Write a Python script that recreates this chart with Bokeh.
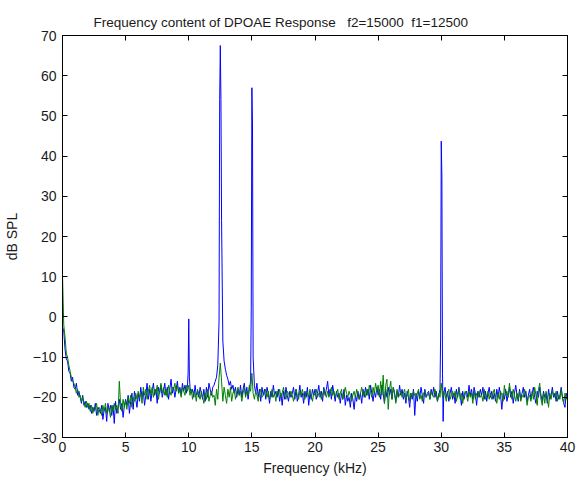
import numpy as np
from bokeh.plotting import figure
from bokeh.models import Range1d, LinearAxis, FixedTicker
from bokeh.embed import file_html
from bokeh.resources import INLINE

TITLE = "Frequency content of DPOAE Response\u00a0\u00a0\u00a0f2=15000\u00a0\u00a0f1=12500"
X_LABEL = "Frequency (kHz)"
Y_LABEL = "dB SPL"
X_TICKS = [0, 5, 10, 15, 20, 25, 30, 35, 40]
Y_TICKS = [-30, -20, -10, 0, 10, 20, 30, 40, 50, 60, 70]
BIN_KHZ = 0.1  # spectrum bin spacing (one value per bin below, from 0 kHz)

# Response 1 (blue), one row per kHz
blue_db = [
    -2.5, -3.5, -8.0, -10.5, -11.0, -13.5, -14.0, -16.0, -15.0, -17.5,
    -18.0, -16.5, -19.5, -18.5, -20.0, -21.5, -19.5, -22.0, -21.0, -22.5,
    -21.5, -23.0, -22.0, -24.0, -22.5, -23.5, -21.5, -24.5, -22.5, -23.0,
    -24.0, -22.0, -25.5, -23.0, -22.5, -26.0, -21.5, -23.5, -22.0, -24.5,
    -22.0, -26.5, -21.0, -24.0, -22.5, -20.5, -23.0, -21.5, -25.0, -22.0,
    -20.5, -22.0, -19.5, -24.0, -21.0, -19.0, -23.0, -18.5, -20.5, -22.5,
    -19.0, -21.0, -17.5, -20.0, -18.5, -22.0, -19.5, -16.5, -20.5, -18.0,
    -21.0, -18.5, -16.5, -19.5, -18.0, -21.5, -17.5, -19.0, -17.0, -20.0,
    -18.5, -16.5, -19.5, -17.5, -20.5, -18.0, -15.5, -19.0, -17.5, -20.0,
    -18.0, -16.0, -19.0, -17.5, -19.5, -16.5, -18.5, -17.0, -19.0, -17.0,
    -0.5, -17.5, -19.0, -18.0, -20.0, -17.0, -19.5, -18.5, -20.0, -17.5,
    -19.0, -20.5, -18.0, -21.0, -17.5, -20.0, -16.5, -18.0, -19.5, -17.5,
    -17.0, -16.0, -15.0, -12.0, -1.0, 67.5, 24.0, -6.0, -11.0, -13.0,
    -14.5, -15.5, -17.0, -16.0, -18.0, -17.0, -19.0, -17.5, -20.0, -18.0,
    -19.5, -17.0, -20.0, -18.0, -16.5, -19.5, -17.5, -20.5, -18.0, -16.0,
    57.0, -10.0, -17.0, -19.0, -16.5, -20.0, -18.0, -21.0, -17.5, -19.5,
    -18.0, -20.5, -17.5, -19.0, -21.5, -18.5, -20.0, -17.0, -19.5, -18.5,
    -20.0, -18.0, -21.0, -19.0, -22.0, -18.5, -20.5, -17.5, -19.5, -21.0,
    -18.5, -20.0, -19.0, -17.5, -20.5, -18.0, -21.0, -19.5, -17.0, -20.0,
    -19.0, -21.5, -18.5, -20.0, -17.5, -22.0, -19.0, -20.5, -18.0, -19.5,
    -18.0, -20.5, -19.0, -17.0, -20.0, -18.5, -21.0, -17.5, -19.5, -18.0,
    -16.0, -19.5, -18.0, -20.5, -17.0, -19.0, -21.0, -18.5, -20.0, -19.0,
    -21.5, -19.0, -20.5, -18.0, -22.0, -19.5, -21.0, -20.0, -22.5, -19.0,
    -20.5, -23.0, -19.5, -21.0, -18.5, -20.5, -19.0, -21.5, -18.0, -20.0,
    -17.5, -19.5, -18.0, -20.5, -17.0, -19.0, -21.0, -18.5, -20.0, -17.5,
    -19.5, -18.0, -20.5, -17.0, -19.0, -21.5, -18.0, -20.0, -17.5, -19.5,
    -18.0, -20.5, -17.5, -19.0, -21.0, -18.5, -20.0, -17.0, -19.5, -18.0,
    -20.5, -19.0, -21.5, -18.5, -20.0, -22.5, -19.0, -20.5, -18.0, -24.5,
    -19.0, -21.0, -18.5, -20.0, -17.5, -19.5, -21.5, -18.0, -20.0, -19.0,
    -18.5, -20.5, -18.0, -19.5, -17.5, -20.0, -18.5, -21.0, -19.5, -18.0,
    43.7, -14.0, -19.0, -17.5, -20.0, -18.5, -21.0, -19.0, -17.5, -20.5,
    -19.0, -21.5, -18.0, -20.0, -17.5, -19.5, -22.0, -18.5, -20.5, -19.0,
    -18.5, -20.0, -17.0, -19.5, -18.0, -20.5, -17.5, -19.0, -22.0, -18.5,
    -20.0, -18.0, -19.5, -17.5, -20.5, -18.5, -21.0, -19.0, -17.5, -20.0,
    -18.5, -20.5, -19.0, -21.0, -18.0, -20.0, -17.5, -19.5, -23.0, -19.0,
    -20.5, -18.0, -21.0, -19.5, -17.5, -20.0, -18.5, -21.5, -19.0, -17.0,
    -19.5, -21.0, -18.0, -20.5, -19.0, -17.5, -20.0, -18.5, -21.0, -19.5,
    -18.0, -20.5, -19.0, -17.5, -20.0, -21.5, -18.5, -20.0, -17.5, -19.5,
    -21.0, -18.5, -20.0, -19.0, -21.5, -18.0, -20.5, -19.5, -17.5, -20.0,
    -19.0, -21.0, -18.5, -20.5, -19.5, -17.5, -20.0, -21.5, -22.5, -19.0,
    -20.0,
]

# extra half-bin points on the blue tone peaks (kHz, dB)
blue_peak_khz = [9.95, 10.05, 12.45, 12.55, 14.95, 15.05, 29.95, 30.05, 30.15]
blue_peak_db = [-14.0, -15.0, 54.0, 54.0, 2.0, 47.5, -5.0, 35.0, -26.0]

# Response 2 (green), one row per kHz
green_db = [
    10.5, -2.0, -5.0, -9.0, -10.0, -12.0, -13.5, -15.0, -16.0, -16.5,
    -17.5, -19.0, -18.0, -20.0, -19.5, -21.0, -20.0, -21.5, -22.5, -21.0,
    -22.5, -21.5, -23.5, -22.0, -24.0, -22.5, -23.0, -21.5, -24.5, -22.5,
    -23.0, -24.5, -22.0, -23.5, -21.5, -24.0, -22.5, -23.0, -25.0, -22.0,
    -23.5, -21.5, -23.0, -22.0, -24.0, -16.0, -21.5, -23.5, -20.5, -22.5,
    -21.0, -23.0, -20.0, -21.5, -19.5, -22.5, -20.0, -21.0, -19.0, -20.5,
    -18.5, -20.0, -19.0, -21.5, -17.5, -19.5, -18.0, -20.5, -18.5, -17.0,
    -19.5, -17.5, -20.0, -18.0, -19.0, -17.0, -20.5, -18.5, -16.5, -19.0,
    -17.5, -19.5, -18.0, -20.0, -17.0, -18.5, -19.5, -17.5, -18.0, -16.5,
    -18.5, -17.0, -19.0, -18.0, -20.0, -17.5, -18.5, -19.5, -17.0, -18.5,
    -17.0, -19.5, -18.0, -20.5, -18.5, -19.0, -21.0, -18.0, -19.5, -20.5,
    -18.5, -20.0, -21.5, -19.0, -20.5, -18.0, -21.0, -19.5, -18.5, -20.0,
    -19.5, -22.0, -18.0, -20.5, -15.0, -11.5, -16.0, -21.0, -17.5, -19.5,
    -21.5, -18.0, -20.0, -17.5, -21.0, -19.0, -18.0, -20.5, -19.0, -17.5,
    -19.5, -18.5, -21.0, -19.0, -17.5, -20.0, -18.5, -19.5, -17.0, -18.5,
    -14.0, -19.0, -20.5, -18.5, -19.5, -21.0, -19.0, -18.0, -20.0, -19.5,
    -19.0, -18.0, -20.0, -18.5, -20.5, -19.5, -18.0, -20.0, -19.0, -21.0,
    -18.5, -19.5, -18.0, -20.0, -19.0, -17.5, -19.5, -20.5, -18.5, -19.0,
    -20.0, -18.5, -19.5, -21.0, -19.0, -18.0, -19.5, -20.5, -18.5, -19.5,
    -18.0, -19.5, -20.5, -18.5, -19.0, -20.0, -18.0, -19.5, -21.0, -19.0,
    -19.5, -18.0, -20.0, -19.0, -18.5, -20.5, -19.5, -18.0, -19.0, -20.0,
    -18.5, -20.0, -19.0, -17.5, -19.5, -18.5, -20.0, -19.0, -18.0, -20.5,
    -19.0, -18.0, -20.5, -19.5, -17.5, -19.0, -20.0, -18.5, -19.5, -21.0,
    -19.5, -18.5, -20.0, -18.0, -19.5, -20.5, -19.0, -17.5, -19.5, -18.5,
    -20.0, -18.0, -19.5, -17.0, -18.5, -20.0, -17.5, -19.0, -16.5, -18.5,
    -17.0, -20.0, -16.0, -19.5, -14.5, -21.5, -17.0, -15.5, -23.0, -18.0,
    -16.0, -20.5, -17.5, -19.0, -21.5, -18.0, -20.0, -19.5, -18.5, -20.0,
    -19.0, -18.0, -20.5, -19.5, -18.0, -21.0, -19.0, -20.0, -18.5, -19.5,
    -20.0, -19.0, -18.0, -20.5, -19.5, -21.0, -19.0, -18.5, -20.0, -19.5,
    -19.0, -20.5, -18.5, -19.5, -20.0, -18.0, -19.5, -21.0, -19.0, -20.0,
    -16.5, -20.0, -18.5, -19.5, -21.0, -19.0, -18.0, -20.5, -19.5, -18.5,
    -20.0, -18.5, -21.0, -19.5, -18.0, -20.5, -19.0, -21.5, -19.5, -18.5,
    -19.5, -21.0, -18.5, -20.0, -19.0, -21.5, -18.5, -20.5, -19.0, -20.0,
    -18.5, -20.0, -19.5, -21.0, -18.0, -20.5, -19.5, -18.5, -20.5, -19.0,
    -20.5, -19.0, -18.0, -20.0, -21.5, -19.0, -20.5, -18.5, -19.5, -21.0,
    -17.0, -19.5, -18.5, -20.0, -16.5, -19.0, -20.5, -18.0, -19.5, -21.0,
    -19.0, -20.5, -18.5, -21.0, -19.5, -20.0, -18.0, -19.5, -22.0, -20.0,
    -19.5, -21.0, -18.5, -20.5, -17.5, -19.5, -22.0, -18.0, -16.5, -20.5,
    -22.0, -19.0, -21.5, -18.5, -20.0, -22.5, -19.0, -20.5, -18.5, -19.5,
    -20.0, -18.5, -21.0, -19.5, -20.5, -18.0, -20.0, -21.5, -19.0, -20.5,
    -19.5,
]

assert len(blue_db) == 401, len(blue_db)
assert len(green_db) == 401, len(green_db)

bins = np.round(np.arange(len(blue_db)) * BIN_KHZ, 3)
bx = np.concatenate([bins, blue_peak_khz])
by = np.concatenate([blue_db, blue_peak_db])
order = np.argsort(bx, kind="stable")
bx, by = bx[order], by[order]
gx = np.round(np.arange(len(green_db)) * BIN_KHZ, 3)

FONT = "Liberation Sans"
TXT = "#1a1a1a"

p = figure(width=579, height=482, output_backend="svg", toolbar_location=None,
           x_range=Range1d(0, 40), y_range=Range1d(-30, 70),
           min_border_left=62, min_border_right=12, min_border_top=35,
           min_border_bottom=45, background_fill_color="white",
           border_fill_color="white", outline_line_color="black",
           title=TITLE)
p.grid.visible = False

p.title.text_font = FONT
p.title.text_font_size = "13.5px"
p.title.text_font_style = "normal"
p.title.text_color = TXT
p.title.align = "left"
p.title.offset = 31
p.title.standoff = 12

p.line(bx, by, line_color="#0000ff", line_width=1)
p.line(gx, green_db, line_color="#008000", line_width=1)

def style(ax, labels=True):
    ax.axis_line_color = "black"
    ax.major_tick_line_color = "black"
    ax.major_tick_in = 5
    ax.major_tick_out = 0
    ax.minor_tick_line_color = None
    ax.major_label_text_font = FONT
    ax.major_label_text_font_size = "14px"
    ax.major_label_text_color = TXT
    if not labels:
        ax.major_label_text_font_size = "0px"
        ax.major_label_standoff = 0
        ax.major_label_text_color = None

xa = p.xaxis[0]
ya = p.yaxis[0]
xa.ticker = FixedTicker(ticks=X_TICKS)
ya.ticker = FixedTicker(ticks=Y_TICKS)
style(xa)
style(ya)
xa.axis_label = X_LABEL
ya.axis_label = Y_LABEL
for ax in (xa, ya):
    ax.axis_label_text_font = FONT
    ax.axis_label_text_font_size = "14px"
    ax.axis_label_text_font_style = "normal"
    ax.axis_label_text_color = TXT
xa.major_label_standoff = 4
ya.major_label_standoff = 6
xa.axis_label_standoff = 5
ya.axis_label_standoff = 10

top = LinearAxis(ticker=FixedTicker(ticks=X_TICKS))
right = LinearAxis(ticker=FixedTicker(ticks=Y_TICKS))
style(top, labels=False)
style(right, labels=False)
p.add_layout(top, "above")
p.add_layout(right, "right")

open("out.html", "w").write(file_html(p, INLINE))
